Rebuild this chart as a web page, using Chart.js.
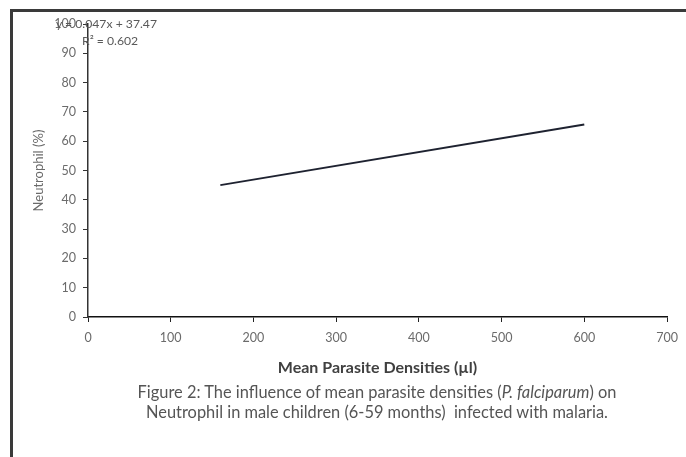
<!DOCTYPE html>
<html>
<head>
<meta charset="utf-8">
<script src="https://cdn.jsdelivr.net/npm/chart.js@4.4.1/dist/chart.umd.min.js"></script>
<style>
  html, body { margin: 0; padding: 0; background: #fff; }
  #wrap { position: relative; width: 686px; height: 457px; overflow: hidden; font-family: Lato, "Open Sans", sans-serif; }
  #frame { position: absolute; left: 10px; top: 9px; right: -10px; bottom: -10px; border-top: 3px solid #3a3a3a; border-left: 3px solid #3a3a3a; }
  canvas { position: absolute; left: 0; top: 0; }
  .eq { position: absolute; color: #595959; font-size: 12.2px; white-space: nowrap; line-height: 14px; }
  .cap { position: absolute; left: 0; width: 754px; text-align: center; color: #555; font-size: 16.4px; white-space: nowrap; line-height: 20px; }
</style>
</head>
<body>
<div id="wrap">
  <div id="frame"></div>
  <canvas id="c" width="686" height="457"></canvas>
  <div class="eq" style="left:56px; top:17px;">y = 0.047x + 37.47</div>
  <div class="eq" style="left:82px; top:34px;">R² = 0.602</div>
  <div class="cap" style="top:382px;">Figure 2: The influence of mean parasite densities (<i>P. falciparum</i>) on</div>
  <div class="cap" style="top:402px;">Neutrophil in male children (6-59 months)&nbsp; infected with malaria.</div>
</div>
<script>
const xTicks = [0, 100, 200, 300, 400, 500, 600, 700];
const yTicks = [0, 10, 20, 30, 40, 50, 60, 70, 80, 90, 100];
const trendX = [160, 600];
const trendY = [45.0, 65.7];
const xTitle = "Mean Parasite Densities (µl)";
const yTitle = "Neutrophil (%)";

const tickFont = { family: "Lato", size: 12.5 };
const trendData = trendX.map((x, i) => ({ x: x, y: trendY[i] }));

new Chart(document.getElementById('c'), {
  type: 'scatter',
  data: {
    datasets: [{
      type: 'line',
      data: trendData,
      borderColor: '#1e2230',
      borderWidth: 1.8,
      pointRadius: 0,
      fill: false,
      tension: 0
    }]
  },
  options: {
    responsive: false,
    animation: false,
    events: [],
    layout: { padding: { left: 31, right: 19, top: 24, bottom: 80 } },
    plugins: { legend: { display: false }, tooltip: { enabled: false } },
    scales: {
      x: {
        type: 'linear',
        min: xTicks[0],
        max: xTicks[xTicks.length - 1],
        afterBuildTicks: (s) => { s.ticks = xTicks.map(v => ({ value: v })); },
        afterFit: (s) => { s.height = 60; },
        ticks: { color: '#6b6b6b', font: tickFont, padding: 8, maxRotation: 0 },
        grid: { drawOnChartArea: false, drawTicks: true, tickLength: 5, color: '#222', tickColor: '#222' },
        border: { color: '#111', width: 1.5 },
        title: { display: true, text: xTitle, color: '#404040', font: { family: "Lato", size: 16, weight: 'bold' }, padding: { top: 0, bottom: 0 } }
      },
      y: {
        type: 'linear',
        min: yTicks[0],
        max: yTicks[yTicks.length - 1],
        afterBuildTicks: (s) => { s.ticks = yTicks.map(v => ({ value: v })); },
        afterFit: (s) => { s.width = 57; },
        ticks: { color: '#6b6b6b', font: tickFont, padding: 7 },
        grid: { drawOnChartArea: false, drawTicks: true, tickLength: 5, color: '#333', tickColor: '#333' },
        border: { color: '#333', width: 1.5 },
        title: { display: true, text: yTitle, color: '#6b6b6b', font: { family: "Lato", size: 13 }, padding: { top: 0, bottom: 0 } }
      }
    }
  }
});
</script>
</body>
</html>
